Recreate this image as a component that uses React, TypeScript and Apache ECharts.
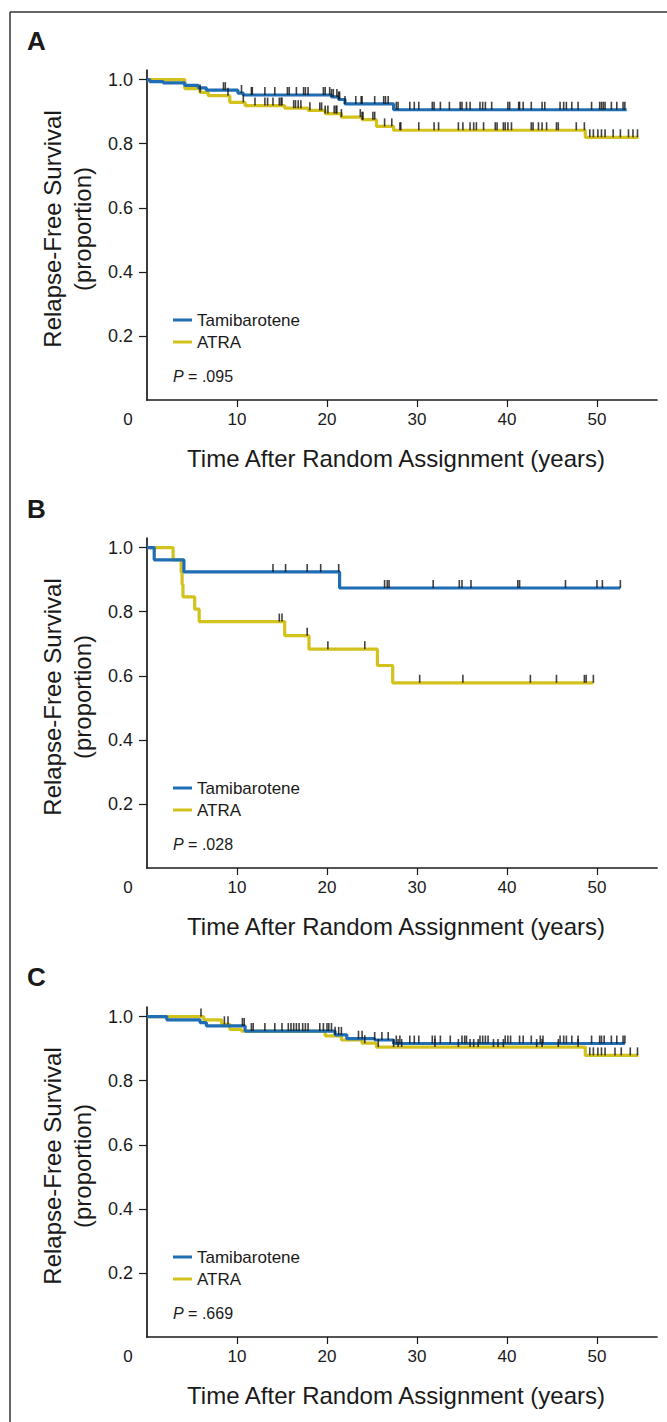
import React, { useEffect, useRef } from "react";
import * as echarts from "echarts";

// ---------- DATA ----------
const PANEL_LETTERS = ["A", "B", "C"];
const P_VALUES = [".095", ".028", ".669"];
const SERIES_NAMES = ["Tamibarotene", "ATRA"];
const X_TICKS = [0, 10, 20, 30, 40, 50];
const Y_TICKS = [0.2, 0.4, 0.6, 0.8, 1.0];
const X_TITLE = "Time After Random Assignment (years)";
const Y_TITLE = "Relapse-Free Survival\n(proportion)";

// Kaplan-Meier step curves: [time, survival from this time on]
const A_TAMI: [number, number][] = [
  [0, 1], [0.3, 0.994], [1.8, 0.99], [4.2, 0.982], [5.7, 0.974], [6.6, 0.967],
  [10.1, 0.958], [10.7, 0.952], [20.5, 0.946], [21.3, 0.938], [22.0, 0.924],
  [27.4, 0.906], [53.3, 0.906],
];
const A_ATRA: [number, number][] = [
  [0, 1], [4.2, 0.972], [5.9, 0.96], [6.8, 0.95], [9.2, 0.929], [10.9, 0.919],
  [15.3, 0.911], [17.9, 0.904], [19.8, 0.894], [21.6, 0.883], [23.9, 0.875],
  [25.5, 0.854], [27.4, 0.842], [48.7, 0.82], [54.6, 0.82],
];
const B_TAMI: [number, number][] = [
  [0, 1], [0.8, 0.962], [4.1, 0.924], [21.4, 0.874], [52.6, 0.874],
];
const B_ATRA: [number, number][] = [
  [0, 1], [2.9, 0.962], [3.8, 0.923], [3.9, 0.885], [4.0, 0.846], [5.3, 0.808],
  [5.8, 0.769], [15.3, 0.725], [18.0, 0.683], [25.6, 0.632], [27.3, 0.578],
  [49.6, 0.578],
];
const C_TAMI: [number, number][] = [
  [0, 1], [2.2, 0.99], [5.9, 0.981], [6.6, 0.971], [10.9, 0.955], [20.9, 0.943],
  [22.2, 0.931], [25.3, 0.927], [27.4, 0.916], [53.1, 0.916],
];
const C_ATRA: [number, number][] = [
  [0, 1], [6.3, 0.99], [8.3, 0.976], [9.2, 0.96], [10.5, 0.955], [19.8, 0.94],
  [21.6, 0.927], [23.9, 0.917], [25.5, 0.905], [48.7, 0.879], [54.6, 0.879],
];

// censoring times
const A_TAMI_CENS = [
  8.5, 8.7, 10.5, 11.6, 11.7, 13.1, 14.2, 15.6, 15.8, 16.6, 17.4, 17.6, 17.9,
  19.6, 19.8, 20.3, 20.5, 20.7, 21.1, 21.3, 21.4, 22.0, 23.2, 23.8, 23.9, 25.3,
  26.3, 26.5, 26.8, 27.7, 27.9, 29.2, 29.7, 30.2, 31.7, 31.9, 32.6, 33.6, 34.8,
  35.0, 35.5, 35.9, 37.0, 37.3, 37.6, 38.3, 40.1, 40.3, 41.3, 41.4, 41.8, 42.7,
  43.9, 44.2, 45.9, 46.3, 46.6, 47.2, 47.9, 49.4, 50.3, 50.5, 50.7, 50.9, 51.6,
  52.2, 52.9, 53.1,
];
const A_ATRA_CENS = [
  5.9, 9.0, 10.7, 12.0, 13.1, 13.4, 14.0, 14.7, 14.9, 15.0, 16.3, 16.5, 16.8,
  17.1, 18.1, 19.2, 19.4, 19.8, 20.1, 20.8, 21.0, 21.1, 21.6, 23.7, 23.9, 24.0,
  25.1, 25.3, 26.4, 27.2, 28.1, 28.2, 30.2, 31.9, 32.4, 34.6, 35.1, 35.9, 36.3,
  36.6, 37.4, 38.7, 38.9, 39.6, 39.8, 40.1, 40.5, 42.7, 42.9, 43.5, 43.9, 44.4,
  45.5, 45.7, 47.7, 48.6, 49.2, 49.6, 50.1, 50.5, 50.9, 51.8, 52.6, 53.5, 54.0,
  54.5,
];
const B_TAMI_CENS = [
  14.0, 15.4, 17.8, 19.3, 21.3, 26.4, 26.7, 26.9, 31.8, 34.7, 35.0, 36.0, 41.2,
  41.4, 46.5, 50.0, 50.6, 52.6,
];
const B_ATRA_CENS = [
  14.7, 15.0, 17.8, 20.1, 24.2, 30.3, 35.1, 42.6, 45.5, 48.6, 48.8, 49.6,
];
const C_TAMI_CENS = [
  10.6, 10.8, 11.6, 11.8, 13.1, 14.2, 15.0, 15.7, 16.0, 16.3, 16.6, 16.9, 17.3,
  17.6, 17.9, 19.2, 19.6, 20.0, 20.2, 20.5, 20.9, 21.3, 21.6, 23.5, 23.9, 25.3,
  26.1, 26.8, 27.7, 28.1, 29.2, 29.7, 30.2, 31.7, 32.0, 32.6, 33.7, 35.0, 35.3,
  35.5, 37.0, 37.3, 37.6, 37.9, 39.8, 40.1, 40.4, 41.4, 41.8, 42.7, 43.7, 44.0,
  45.9, 46.3, 46.6, 47.2, 47.9, 49.4, 50.3, 50.5, 50.8, 51.6, 52.2, 52.9, 53.1,
];
const C_ATRA_CENS = [
  6.0, 8.6, 9.0, 24.2, 25.7, 27.4, 27.9, 28.3, 32.0, 34.6, 35.9, 36.3, 36.8,
  38.5, 39.0, 39.6, 43.3, 43.9, 45.7, 47.9, 49.2, 49.6, 50.1, 50.5, 50.9, 52.0,
  52.7, 53.7, 54.5,
];

const CURVES = [
  [A_TAMI, A_ATRA],
  [B_TAMI, B_ATRA],
  [C_TAMI, C_ATRA],
];
const CENSORS = [
  [A_TAMI_CENS, A_ATRA_CENS],
  [B_TAMI_CENS, B_ATRA_CENS],
  [C_TAMI_CENS, C_ATRA_CENS],
];

// ---------- LAYOUT / STYLE ----------
const FONT = "'Liberation Sans', Arial, Helvetica, sans-serif";
const INK = "#1a1a1a";
const COLORS = ["#1f6db3", "#d3c21b"];
const GRID_TOPS = [70, 538, 1007];
const GRID_LEFT = 147;
const GRID_W = 510;
const GRID_H = 330;
const X_MAX = 56.67;
const Y_MAX = 1.03;

function survivalAt(curve: [number, number][], t: number): number {
  let s = curve[0][1];
  for (const [ti, si] of curve) {
    if (ti <= t) s = si;
    else break;
  }
  return s;
}

function buildOption() {
  const grid: any[] = [];
  const xAxis: any[] = [];
  const yAxis: any[] = [];
  const series: any[] = [];
  const legend: any[] = [];
  const graphic: any[] = [];

  graphic.push({
    type: "line",
    shape: { x1: 10, y1: 12, x2: 667, y2: 12 },
    style: { stroke: "#333", lineWidth: 1.5 },
  });
  graphic.push({
    type: "line",
    shape: { x1: 10, y1: 12, x2: 10, y2: 1422 },
    style: { stroke: "#333", lineWidth: 1.5 },
  });

  for (let i = 0; i < 3; i++) {
    const top = GRID_TOPS[i];
    const bottom = top + GRID_H;
    grid.push({ left: GRID_LEFT, top, width: GRID_W, height: GRID_H, containLabel: false });
    xAxis.push({
      gridIndex: i,
      type: "value",
      min: 0,
      max: X_MAX,
      axisLine: { show: true, onZero: false, lineStyle: { color: INK, width: 1.7 } },
      axisTick: {
        show: true,
        length: 7,
        customValues: X_TICKS.filter((v) => v > 0),
        lineStyle: { color: INK, width: 1.2 },
      },
      axisLabel: {
        customValues: X_TICKS,
        margin: 11,
        fontSize: 17,
        fontFamily: FONT,
        color: INK,
        formatter: (v: number) => (v === 0 ? "{o|0}" : String(v)),
        rich: {
          o: { padding: [0, 38, 0, 0], fontSize: 17, fontFamily: FONT, color: INK },
        },
      },
      splitLine: { show: false },
      name: X_TITLE,
      nameLocation: "middle",
      nameGap: 46,
      nameTextStyle: { fontSize: 24, fontFamily: FONT, color: INK, padding: [0, 12, 0, 0] },
    });
    yAxis.push({
      gridIndex: i,
      type: "value",
      min: 0,
      max: Y_MAX,
      axisLine: { show: true, onZero: false, lineStyle: { color: INK, width: 1.7 } },
      axisTick: {
        show: true,
        length: 8,
        customValues: Y_TICKS,
        lineStyle: { color: INK, width: 1.2 },
      },
      axisLabel: {
        customValues: Y_TICKS,
        margin: 14,
        fontSize: 18,
        fontFamily: FONT,
        color: INK,
        formatter: (v: number) => v.toFixed(1),
      },
      splitLine: { show: false },
      name: Y_TITLE,
      nameLocation: "middle",
      nameGap: 50,
      nameTextStyle: {
        fontSize: 24,
        lineHeight: 30,
        fontFamily: FONT,
        color: INK,
        padding: [0, 0, 0, 12],
      },
    });

    // curves: ATRA first, Tamibarotene on top
    [1, 0].forEach((k) => {
      series.push({
        type: "line",
        name: SERIES_NAMES[k],
        xAxisIndex: i,
        yAxisIndex: i,
        data: CURVES[i][k],
        step: "end",
        showSymbol: false,
        symbol: "none",
        lineStyle: { color: COLORS[k], width: 3.2 },
        itemStyle: { color: COLORS[k] },
        z: 2 + (1 - k),
        silent: true,
      });
    });
    [0, 1].forEach((k) => {
      series.push({
        type: "scatter",
        name: SERIES_NAMES[k] + " censored " + PANEL_LETTERS[i],
        xAxisIndex: i,
        yAxisIndex: i,
        data: CENSORS[i][k].map((t) => [t, survivalAt(CURVES[i][k], t)]),
        symbol: "rect",
        symbolSize: [1.6, 8],
        symbolOffset: [0, -4],
        itemStyle: { color: "#111" },
        z: 5,
        silent: true,
      });
    });

    legend.push({
      orient: "vertical",
      left: 173,
      top: bottom - 89,
      padding: 0,
      itemWidth: 19,
      itemHeight: 3,
      itemGap: 4,
      icon: "rect",
      selectedMode: false,
      data: SERIES_NAMES,
      textStyle: { fontSize: 17, lineHeight: 18, fontFamily: FONT, color: INK },
    });

    graphic.push({
      type: "text",
      x: 27,
      y: [41, 509, 977][i],
      style: {
        text: PANEL_LETTERS[i],
        fontSize: 26,
        fontWeight: "bold",
        fontFamily: FONT,
        fill: INK,
        verticalAlign: "middle",
        align: "left",
      },
    });
    graphic.push({
      type: "text",
      x: 173,
      y: bottom - 24,
      style: {
        text: "{i|P} = " + P_VALUES[i],
        fontSize: 16,
        fontFamily: FONT,
        fill: INK,
        verticalAlign: "middle",
        align: "left",
        rich: {
          i: { fontStyle: "italic", fontSize: 16, fontFamily: FONT, fill: INK },
        },
      },
    });
  }

  return {
    animation: false,
    backgroundColor: "#ffffff",
    grid,
    xAxis,
    yAxis,
    legend,
    series,
    graphic,
  };
}

export default function App() {
  const ref = useRef<HTMLDivElement>(null);
  useEffect(() => {
    document.body.style.margin = "0";
    if (!ref.current) return;
    const chart = echarts.init(ref.current, undefined, { renderer: "svg" });
    chart.setOption(buildOption());
    return () => chart.dispose();
  }, []);
  return (
    <div
      ref={ref}
      style={{ position: "absolute", left: 0, top: 0, width: 667, height: 1422, background: "#fff" }}
    />
  );
}
